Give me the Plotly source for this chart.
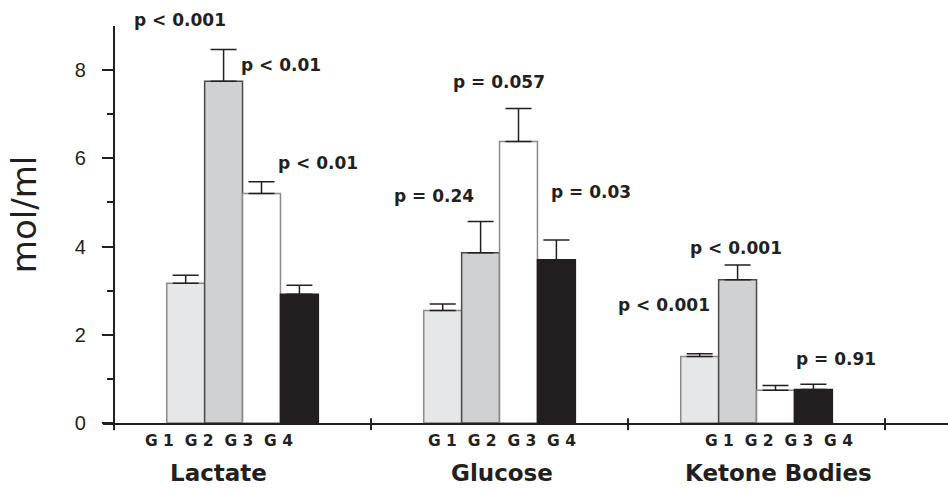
import plotly.graph_objects as go

# ---- data ----
metabolites = ["Lactate", "Glucose", "Ketone Bodies"]
group_names = ["G 1", "G 2", "G 3", "G 4"]
g1_mean = [3.17, 2.55, 1.51]
g1_err = [0.18, 0.15, 0.06]
g2_mean = [7.75, 3.86, 3.25]
g2_err = [0.72, 0.71, 0.33]
g3_mean = [5.20, 6.38, 0.74]
g3_err = [0.27, 0.75, 0.11]
g4_mean = [2.92, 3.70, 0.76]
g4_err = [0.20, 0.45, 0.12]
p_labels = ["p < 0.001", "p < 0.01", "p < 0.01",
            "p = 0.24", "p = 0.057", "p = 0.03",
            "p < 0.001", "p < 0.001", "p = 0.91"]
y_ticks = [0, 2, 4, 6, 8]
y_minor = [1, 3, 5, 7]

# ---- layout helpers (positions / styles) ----
Y_MAX = 9
p_pos = [(-0.245, 9.14), (0.150, 8.12), (0.292, 5.89),
         (0.745, 5.15), (0.998, 7.73), (1.354, 5.24),
         (1.920, 3.97), (1.638, 2.68), (2.311, 1.45)]
label_x = [-0.093, 1.008, 2.086]
INK = "#231f20"
fills = ["#e6e7e8", "#d0d1d3", "#ffffff", "#231f20"]
edges = ["#8a8a8a", "#4a4a4a", "#8a8a8a", "#231f20"]
means = [g1_mean, g2_mean, g3_mean, g4_mean]
errs = [g1_err, g2_err, g3_err, g4_err]

xpos = list(range(len(metabolites)))
fig = go.Figure()
for i, name in enumerate(group_names):
    fig.add_trace(go.Bar(
        x=xpos, y=means[i], name=name,
        marker=dict(color=fills[i], line=dict(color=edges[i], width=1.5)),
        error_y=dict(type="data", symmetric=False, array=errs[i],
                     arrayminus=[0] * len(errs[i]),
                     color=INK, thickness=1.5, width=13),
        showlegend=False,
    ))

ann = []
for txt, (px, py) in zip(p_labels, p_pos):
    ann.append(dict(x=px, y=py / Y_MAX, xref="x", yref="paper",
                    xanchor="center", yanchor="middle",
                    text="<b>%s</b>" % txt, showarrow=False,
                    font=dict(family="DejaVu Sans", size=17, color=INK)))
g_text = "\u00a0\u00a0".join(n.replace(" ", "\u00a0") for n in group_names)
for lx, m in zip(label_x, metabolites):
    ann.append(dict(x=lx, y=-0.0456, xref="x", yref="paper",
                    xanchor="center", yanchor="middle",
                    text="<b>%s</b>" % g_text, showarrow=False,
                    font=dict(family="DejaVu Sans", size=15.5, color=INK)))
    ann.append(dict(x=lx, y=-0.1256, xref="x", yref="paper",
                    xanchor="center", yanchor="middle",
                    text="<b>%s</b>" % m, showarrow=False,
                    font=dict(family="DejaVu Sans", size=23, color=INK)))
ann.append(dict(x=-0.094, y=0.525, xref="paper", yref="paper", text="mol/ml",
                textangle=-90, showarrow=False, xanchor="center", yanchor="middle",
                font=dict(family="DejaVu Sans", size=34, color=INK)))

# x tick marks crossing the axis at group boundaries
shapes = []
for b in [-0.5, 0.5, 1.5, 2.5]:
    shapes.append(dict(type="line", xref="x", yref="paper", x0=b, x1=b,
                       y0=-0.018, y1=0.012 if b > 0 else 0,
                       line=dict(color=INK, width=2)))

fig.update_layout(
    width=948, height=491,
    margin=dict(l=103, r=0, t=26, b=68),
    paper_bgcolor="white", plot_bgcolor="white",
    barmode="group", bargap=0.41, bargroupgap=0,
    annotations=ann, shapes=shapes,
    xaxis=dict(range=[-0.543, 2.745], showline=True, linecolor=INK, linewidth=2,
               showticklabels=False, ticks="", showgrid=False, zeroline=False,
               automargin=False),
    yaxis=dict(range=[0, Y_MAX], anchor="free", position=0.013,
               showline=True, linecolor=INK, linewidth=2,
               tickvals=y_ticks, ticks="outside", ticklen=11, tickwidth=2,
               tickcolor=INK, ticklabelstandoff=12,
               tickfont=dict(family="Liberation Sans", size=20, color=INK),
               minor=dict(tickvals=y_minor, ticks="outside", ticklen=6,
                          tickwidth=2, tickcolor=INK),
               showgrid=False, zeroline=False, automargin=False),
)

fig.write_html("out.html",
               config={"displayModeBar": False},
               post_script="document.body.style.margin='0';"
                           "document.body.style.overflow='hidden';")
